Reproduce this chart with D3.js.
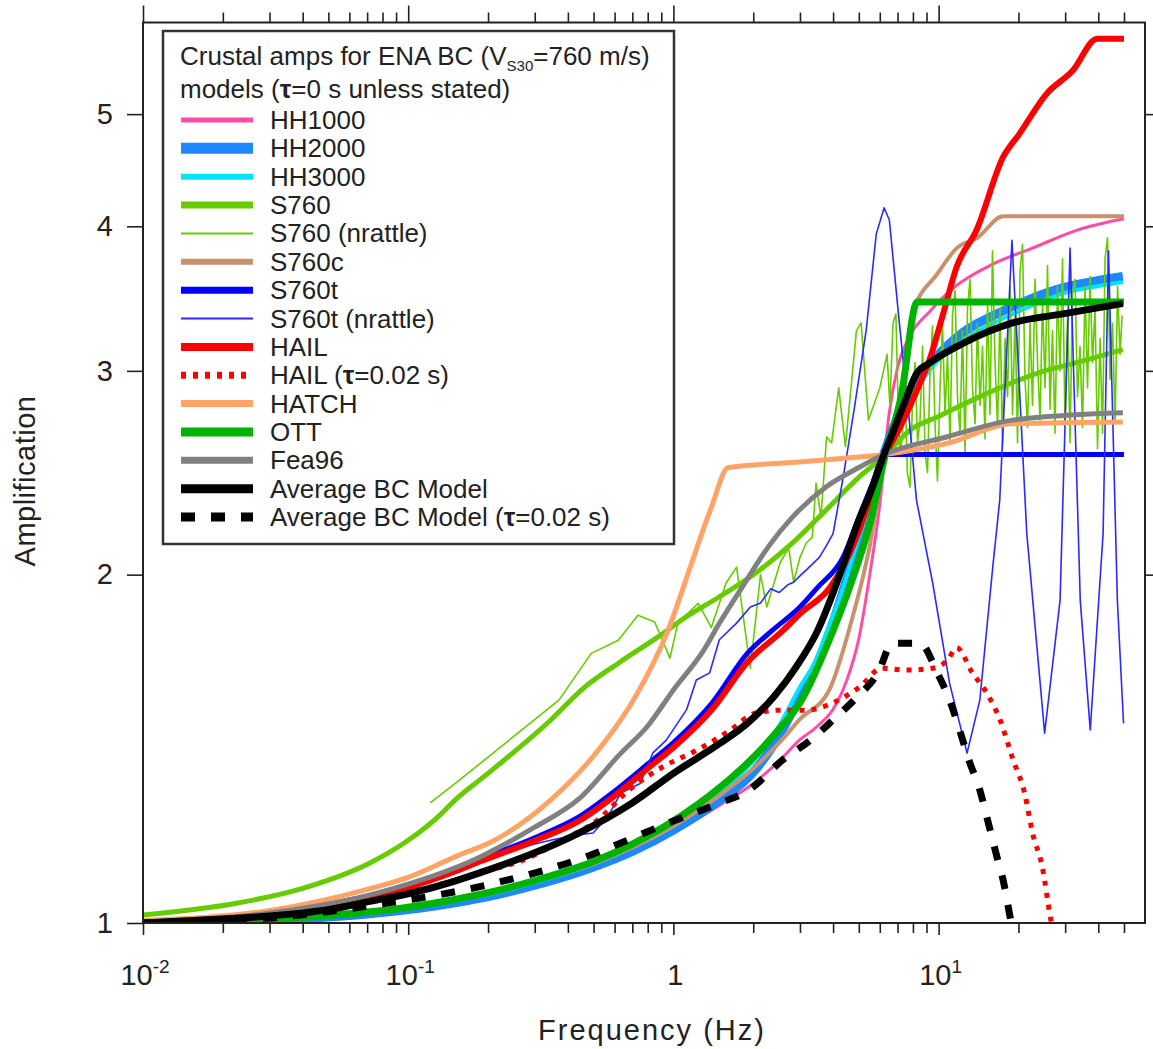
<!DOCTYPE html>
<html><head><meta charset="utf-8">
<script src="https://cdn.jsdelivr.net/npm/d3@7"></script>
<style>
body{margin:0;background:#fff}
svg{display:block}
text{font-family:"Liberation Sans",Arial,Helvetica,sans-serif;fill:#222}
</style>
</head><body>
<svg id="chart" width="1153" height="1049"></svg>
<script>
// ---------- axis ticks ----------
const xMajorTicks = [0.01, 0.1, 1, 10];
const xTickBase = ["10", "10", "1", "10"];
const xTickExp = ["-2", "-1", "", "1"];
const xMinorTicks = [0.02,0.03,0.04,0.05,0.06,0.07,0.08,0.09,0.2,0.3,0.4,0.5,0.6,0.7,0.8,0.9,2,3,4,5,6,7,8,9,20,30,40,50];
const yTicks = [1, 2, 3, 4, 5];
const xTitle = "Frequency (Hz)";
const yTitle = "Amplification";

// ---------- series [frequency Hz, amplification] ----------
const HH1000 = [[0.01,1.0],[0.02,1.005],[0.03,1.008],[0.05,1.015],[0.07,1.022],[0.1,1.032],[0.15,1.047],[0.2,1.06],[0.3,1.083],[0.5,1.12],[0.7,1.153],[1.0,1.198],[1.5,1.265],[2.0,1.32],[2.5,1.38],[3.0,1.44],[3.5,1.48],[4.0,1.53],[4.5,1.62],[5.0,1.76],[5.5,2.0],[6.0,2.3],[6.5,2.75],[7.0,3.02],[7.7,3.2],[9.3,3.38],[11.4,3.54],[16,3.71],[22.6,3.83],[33.3,3.97],[50,4.06]];
const HH2000 = [[0.01,1.0],[0.02,1.003],[0.03,1.006],[0.05,1.012],[0.07,1.018],[0.1,1.027],[0.15,1.041],[0.2,1.054],[0.3,1.078],[0.5,1.118],[0.7,1.153],[1.0,1.203],[1.5,1.278],[2.0,1.35],[2.5,1.45],[3.0,1.57],[3.5,1.68],[4.0,1.82],[4.5,1.98],[5.0,2.14],[5.5,2.3],[6.2,2.54],[7.2,2.77],[8.3,2.93],[9.3,3.04],[12.4,3.24],[16.6,3.36],[22.1,3.46],[29.5,3.54],[39.7,3.59],[49.5,3.62]];
const HH3000 = [[0.01,1.0],[0.02,1.004],[0.03,1.008],[0.05,1.014],[0.07,1.02],[0.1,1.03],[0.15,1.045],[0.2,1.058],[0.3,1.084],[0.5,1.125],[0.7,1.163],[1.0,1.213],[1.5,1.298],[2.0,1.38],[2.5,1.48],[3.0,1.6],[3.5,1.7],[3.8,1.79],[4.2,1.9],[4.9,2.12],[5.55,2.32],[6.2,2.54],[7.2,2.74],[8.3,2.9],[9.3,3.01],[12.4,3.19],[16.6,3.31],[22.1,3.41],[29.5,3.5],[39.7,3.55],[49.5,3.58]];
const S760 = [[0.01,1.016],[0.0225,1.04],[0.0403,1.072],[0.0717,1.127],[0.0963,1.172],[0.128,1.232],[0.153,1.282],[0.193,1.338],[0.344,1.497],[0.463,1.599],[0.618,1.676],[0.875,1.767],[1.11,1.837],[1.48,1.912],[2.1,2.016],[2.8,2.128],[3.76,2.274],[5.0,2.427],[6.22,2.53],[7.8,2.666],[10,2.74],[14.3,2.85],[24,2.99],[35,3.06],[49.5,3.13]];
const S760nrattle = [[0.121,1.27],[0.153,1.324],[0.37,1.558],[0.49,1.71],[0.62,1.755],[0.735,1.845],[0.85,1.82],[0.97,1.694],[1.04,1.817],[1.24,1.889],[1.39,1.80],[1.58,1.967],[1.73,2.03],[1.95,1.66],[2.13,2.0],[2.25,1.875],[2.53,2.05],[2.72,2.11],[2.84,1.97],[3.0,2.07],[3.17,2.13],[3.34,2.155],[3.45,2.4],[3.6,2.24],[3.78,2.63],[3.95,2.6],[4.2,2.9],[4.45,2.58],[4.9,3.25],[5.1,3.3],[5.44,2.72],[6.0,2.9],
 [6.39,3.10],[6.55,2.80],[6.73,3.30],[6.9,3.36],[7.05,2.75],[7.15,2.55],[7.3,2.63],[7.47,2.95],[7.62,2.45],[7.80,2.38],[7.98,2.85],[8.15,3.05],[8.33,2.60],[8.51,2.72],[8.7,3.15],[8.89,2.55],[9.08,2.45],[9.28,3.00],[9.48,3.28],[9.69,2.70],[9.9,2.41],[10.12,2.90],[10.34,3.30],[10.57,2.75],[10.8,3.10],[11.04,2.60],[11.28,3.35],[11.53,3.52],[11.78,2.85],[12.04,2.65],[12.3,3.25],[12.58,2.55],[12.85,3.40],[13.13,3.60],[13.42,2.90],[13.72,2.70],[14.0,3.30],[14.33,2.80],[14.64,3.15],[14.96,2.62],[15.3,3.45],[15.62,2.75],[15.96,3.81],[16.32,3.05],[16.68,2.68],[17.04,3.40],[17.42,2.58],[17.8,3.20],[18.19,2.85],[18.59,3.55],[19.0,2.75],[19.42,3.35],[19.84,2.60],[20.27,3.65],[20.72,3.86],[21.17,2.95],[21.64,2.68],[22.11,3.30],[22.6,2.80],[23.09,3.60],[23.6,3.05],[24.12,2.72],[24.65,3.45],[25.19,2.90],[25.74,3.70],[26.31,2.78],[26.88,3.25],[27.47,2.65],[28.07,3.55],[28.69,3.00],[29.32,3.75],[29.96,2.70],[30.62,3.35],[31.3,2.60],[31.98,3.50],[32.68,3.60],[33.4,2.85],[34.13,3.15],[34.88,2.68],[35.65,3.55],[36.43,2.90],[37.23,3.62],[38.05,3.05],[38.88,3.40],[39.73,2.57],[40.61,3.20],[41.5,2.65],[42.41,3.75],[43.34,3.91],[44.29,2.95],[45.27,3.30],[46.27,2.70],[47.28,3.55],[48.31,3.10],[49.2,3.35]];
const S760c = [[0.01,1.0],[0.02,1.004],[0.03,1.008],[0.05,1.015],[0.07,1.022],[0.1,1.032],[0.15,1.047],[0.2,1.06],[0.3,1.086],[0.5,1.125],[0.7,1.162],[1.0,1.213],[1.5,1.29],[2.0,1.36],[2.5,1.43],[3.0,1.5],[3.87,1.59],[4.65,1.81],[5.55,2.14],[6.2,2.5],[7.15,2.84],[8.0,3.37],[9.9,3.64],[11.7,3.83],[14.0,3.91],[17.5,4.08],[50,4.08]];
const S760t = [[0.01,1.0],[0.02,1.009],[0.03,1.017],[0.05,1.032],[0.078,1.058],[0.1,1.076],[0.15,1.112],[0.186,1.135],[0.3,1.185],[0.44,1.235],[0.6,1.3],[0.8,1.372],[1.0,1.432],[1.4,1.55],[1.9,1.71],[2.36,1.79],[3.0,1.875],[3.5,1.95],[4.36,2.07],[5.0,2.24],[5.6,2.39],[6.3,2.54],[50,2.54]];
const S760tNrattle = [[0.01,1.0],[0.03,1.017],[0.1,1.076],[0.2,1.14],[0.3,1.17],[0.351,1.18],[0.42,1.19],[0.498,1.196],[0.565,1.235],[0.633,1.295],[0.75,1.32],[0.837,1.403],[0.94,1.439],[1.12,1.528],[1.22,1.622],[1.37,1.645],[1.49,1.757],[1.73,1.816],[1.95,1.875],[2.13,1.89],[2.33,1.945],[2.5,1.93],[2.7,1.96],[2.84,1.97],[3.0,1.995],[3.18,2.02],[3.55,2.07],[3.78,2.12],[4.0,2.17],[4.37,2.43],[4.78,2.76],[5.33,3.25],[5.82,3.94],[6.23,4.15],[6.52,4.05],[7.1,3.31],[7.75,2.72],[8.25,2.32],[9.5,1.966],[11.0,1.611],[12.8,1.402],[14.3,1.558],[16.0,2.03],[17.0,2.32],[18.9,3.89],[21.5,2.17],[25.1,1.459],[28.7,1.90],[31.3,3.83],[34.2,1.90],[37.3,1.468],[41.7,2.17],[43.7,3.81],[47.2,1.90],[49.8,1.488]];
const HAIL = [[0.01,1.0],[0.02,1.008],[0.03,1.015],[0.05,1.03],[0.078,1.056],[0.1,1.073],[0.15,1.108],[0.186,1.13],[0.3,1.178],[0.44,1.225],[0.6,1.288],[0.8,1.36],[1.0,1.418],[1.4,1.53],[1.9,1.68],[2.59,1.79],[3.0,1.85],[3.9,1.95],[4.5,2.06],[5.0,2.18],[5.6,2.35],[6.22,2.52],[7.15,2.68],[8.2,2.87],[9.3,3.08],[10.4,3.36],[11.7,3.69],[13.9,3.97],[17.5,4.59],[20.2,4.81],[25.6,5.21],[32,5.45],[39.6,5.81],[50,5.81]];
const HAILkappa = [[0.01,1.0],[0.03,1.012],[0.078,1.048],[0.187,1.105],[0.288,1.14],[0.384,1.18],[0.517,1.227],[0.68,1.303],[0.91,1.364],[1.23,1.411],[1.64,1.468],[2.03,1.518],[2.53,1.527],[3.17,1.527],[4.0,1.55],[5.05,1.6],[6.1,1.66],[7.6,1.654],[9.5,1.66],[10.8,1.687],[11.7,1.73],[13.4,1.645],[15.2,1.58],[17.0,1.5],[19.1,1.383],[21.1,1.295],[22.6,1.196],[24.6,1.118],[26.5,1.006],[28,0.95]];
const HATCH = [[0.01,1.005],[0.0306,1.026],[0.073,1.072],[0.1,1.095],[0.153,1.143],[0.21,1.178],[0.344,1.277],[0.532,1.419],[0.717,1.567],[0.955,1.791],[1.17,2.045],[1.39,2.287],[1.61,2.475],[2.8,2.5],[4.3,2.52],[6.22,2.54],[10.7,2.596],[19,2.70],[49.5,2.71]];
const OTT = [[0.01,1.0],[0.02,1.004],[0.03,1.008],[0.05,1.015],[0.07,1.022],[0.1,1.032],[0.15,1.048],[0.2,1.062],[0.3,1.088],[0.5,1.13],[0.7,1.17],[1.0,1.225],[1.5,1.31],[2.0,1.39],[2.5,1.47],[3.0,1.55],[4.0,1.79],[4.65,1.96],[5.55,2.23],[6.22,2.51],[7.24,2.86],[8.3,3.44],[50,3.44]];
const Fea96 = [[0.01,1.002],[0.03,1.02],[0.078,1.063],[0.186,1.14],[0.3,1.21],[0.44,1.28],[0.63,1.40],[0.8,1.48],[1.0,1.59],[1.3,1.72],[1.5,1.82],[1.84,1.96],[2.3,2.12],[2.8,2.24],[3.75,2.38],[5.0,2.475],[6.22,2.54],[10.7,2.63],[19,2.72],[49.5,2.76]];
const AvgBC = [[0.01,1.0],[0.02,1.008],[0.03,1.014],[0.05,1.027],[0.078,1.048],[0.1,1.06],[0.15,1.087],[0.186,1.105],[0.3,1.15],[0.44,1.196],[0.7,1.27],[1.0,1.347],[1.5,1.43],[1.9,1.488],[2.4,1.57],[2.9,1.664],[3.5,1.79],[3.9,1.9],[4.4,2.05],[4.93,2.21],[5.55,2.36],[6.22,2.54],[6.7,2.65],[7.5,2.83],[8.3,2.99],[9.1,3.04],[12.4,3.17],[19,3.3],[29.4,3.36],[49.5,3.43]];
const AvgBCkappa = [[0.01,1.0],[0.03,1.01],[0.078,1.038],[0.186,1.075],[0.44,1.135],[1.0,1.225],[1.5,1.27],[1.9,1.30],[2.6,1.385],[3.29,1.439],[4.0,1.498],[4.93,1.568],[5.9,1.644],[6.7,1.745],[8.5,1.745],[9.9,1.644],[11.0,1.558],[12.0,1.468],[13.0,1.383],[14.3,1.303],[15.3,1.227],[16.6,1.14],[17.6,1.083],[18.6,1.012],[19.5,0.96]];

const seriesLabels = ["HH1000","HH2000","HH3000","S760","S760 (nrattle)","S760c","S760t","S760t (nrattle)","HAIL","HAIL (τ=0.02 s)","HATCH","OTT","Fea96","Average BC Model","Average BC Model (τ=0.02 s)"];
const seriesData = [HH1000,HH2000,HH3000,S760,S760nrattle,S760c,S760t,S760tNrattle,HAIL,HAILkappa,HATCH,OTT,Fea96,AvgBC,AvgBCkappa];
const seriesColors = ["#ff4da6","#1e88ff","#00e5ff","#66cc00","#66cc00","#c9926f","#0000ff","#2a2aff","#ff0000","#ff0000","#ffa366","#00b300","#808080","#000000","#000000"];

// ---------- styles ----------
const widths = [3,9,4,5,1.6,4,5,1.6,6,5,5,7,5,7,7];
const dashes = [null,null,null,null,null,null,null,null,null,"5,7",null,null,null,null,"14,16"];
const smooth = [true,true,true,true,false,true,true,false,true,true,true,true,true,true,true];

const svg = d3.select("#chart");
const L = 143, R = 1145, T = 22.5, B = 923;
const x = d3.scaleLog().domain([0.01, 60]).range([L, R]);
const y = d3.scaleLog().domain([1, 6]).range([B, T]);

svg.append("defs").append("clipPath").attr("id","plotclip")
  .append("rect").attr("x",L).attr("y",T).attr("width",R-L).attr("height",B-T);

// curves
const gCurves = svg.append("g").attr("clip-path","url(#plotclip)");
seriesData.forEach((d,i) => {
  const line = d3.line().x(p => x(p[0])).y(p => y(p[1]))
    .curve(smooth[i] ? d3.curveMonotoneX : d3.curveLinear);
  gCurves.append("path").datum(d).attr("d", line)
    .attr("fill","none").attr("stroke",seriesColors[i])
    .attr("stroke-width",widths[i])
    .attr("stroke-linejoin","round")
    .attr("stroke-dasharray",dashes[i]);
});

// axes
const axisColor = "#222";
function styleAxis(g){ g.selectAll("path.domain").remove(); g.selectAll("line").attr("stroke",axisColor).attr("stroke-width",1.6); }
svg.append("g").attr("transform",`translate(0,${B})`)
  .call(d3.axisBottom(x).tickValues(xMinorTicks).tickSize(10).tickFormat(""))
  .call(styleAxis);
svg.append("g").attr("transform",`translate(0,${B})`)
  .call(d3.axisBottom(x).tickValues(xMajorTicks).tickSize(12).tickFormat(""))
  .call(styleAxis);
svg.append("g").attr("transform",`translate(0,${T})`)
  .call(d3.axisTop(x).tickValues(xMinorTicks).tickSize(10).tickFormat(""))
  .call(styleAxis);
svg.append("g").attr("transform",`translate(0,${T})`)
  .call(d3.axisTop(x).tickValues(xMajorTicks).tickSize(17).tickFormat(""))
  .call(styleAxis);
const yAx = svg.append("g").attr("transform",`translate(${L},0)`)
  .call(d3.axisLeft(y).tickValues(yTicks).tickSize(16).tickPadding(14).tickFormat(d3.format("d")))
  .call(styleAxis);
yAx.selectAll("text").attr("font-size",29).attr("fill","#222").attr("font-family",'"Liberation Sans",Arial,sans-serif');
svg.append("g").attr("transform",`translate(${R},0)`)
  .call(d3.axisRight(y).tickValues(yTicks.slice(1)).tickSize(12).tickFormat(""))
  .call(styleAxis);

// frame
svg.append("rect").attr("x",L).attr("y",T).attr("width",R-L).attr("height",B-T)
  .attr("fill","none").attr("stroke","#222").attr("stroke-width",2);

// x tick labels with superscripts
xMajorTicks.forEach((v,i) => {
  const t = svg.append("text").attr("x",x(v)+2).attr("y",985).attr("text-anchor","middle").attr("font-size",29);
  t.append("tspan").text(xTickBase[i]);
  if (xTickExp[i]) t.append("tspan").attr("dy",-12).attr("font-size",19).text(xTickExp[i]);
});

// axis titles
svg.append("text").attr("x",652).attr("y",1040).attr("text-anchor","middle").attr("font-size",29)
  .attr("letter-spacing",2).text(xTitle);
svg.append("text").attr("transform","translate(35,481) rotate(-90)").attr("text-anchor","middle").attr("font-size",29)
  .attr("letter-spacing",0.5).text(yTitle);

// legend
const lg = svg.append("g");
lg.append("rect").attr("x",163).attr("y",31).attr("width",511).attr("height",513)
  .attr("fill","#fff").attr("stroke","#333").attr("stroke-width",2.5);
const t1 = lg.append("text").attr("x",180).attr("y",65).attr("font-size",26);
t1.append("tspan").text("Crustal amps for ENA BC (V");
t1.append("tspan").attr("font-size",15).attr("dy",6).text("S30");
t1.append("tspan").attr("dy",-6).text("=760 m/s)");
const t2 = lg.append("text").attr("x",180).attr("y",98).attr("font-size",26);
t2.append("tspan").text("models (");
t2.append("tspan").attr("font-weight","bold").text("τ");
t2.append("tspan").text("=0 s unless stated)");

seriesLabels.forEach((lab,i) => {
  const yy = 120 + 28.36*i;
  lg.append("line").attr("x1",181).attr("x2",253).attr("y1",yy).attr("y2",yy)
    .attr("stroke",seriesColors[i]).attr("stroke-width",widths[i] < 2 ? 2 : Math.min(widths[i]+2,11))
    .attr("stroke-dasharray",dashes[i]);
  const tx = lg.append("text").attr("x",270).attr("y",yy+9).attr("font-size",26);
  const parts = lab.split("τ");
  tx.append("tspan").text(parts[0]);
  if (parts.length>1){ tx.append("tspan").attr("font-weight","bold").text("τ"); tx.append("tspan").text(parts[1]); }
});
</script>
</body></html>
